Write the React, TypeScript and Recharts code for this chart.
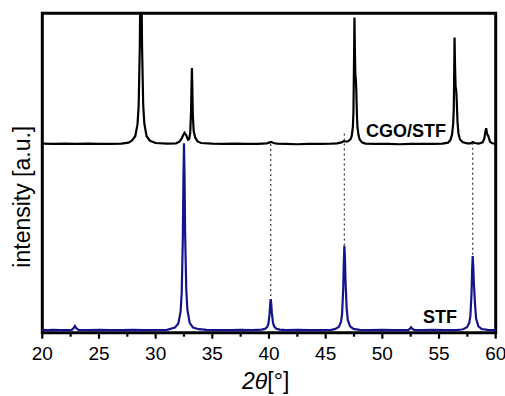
import React from 'react';
import { LineChart, Line, XAxis, YAxis, ReferenceArea, ReferenceLine, Customized } from 'recharts';

// 2theta [deg], intensity [a.u.] (CGO/STF trace is stacked above STF)
const stfProfile: [number, number][] = [
  [20.0, 0.9], [20.5, 0.8], [21.0, 0.9], [21.5, 0.8], [22.0, 0.8], [22.6, 0.9], [22.75, 1.4], [22.88, 2.1], [23.0, 1.4],
  [23.2, 0.9], [24.0, 0.8], [25.0, 0.9], [26.0, 0.8], [27.0, 0.8], [28.0, 0.9], [29.0, 0.8], [30.0, 0.8], [31.0, 0.9],
  [31.7, 1.6], [32.0, 2.9], [32.2, 6.6], [32.3, 12.5], [32.4, 30], [32.45, 47.5], [32.5, 59.3], [32.55, 48.5],
  [32.6, 31], [32.7, 13.7], [32.8, 7.2], [33.0, 3.1], [33.3, 1.6], [33.8, 1.1], [34.5, 0.9], [35.5, 0.8], [36.5, 0.8],
  [37.5, 0.9], [38.5, 0.8], [39.0, 0.9],
  [39.35, 0.95], [39.65, 1.2], [39.85, 1.8], [39.95, 2.8], [40.05, 5.8], [40.1, 8.7], [40.15, 10.5], [40.2, 9],
  [40.25, 6.2], [40.35, 3.2], [40.45, 2.0], [40.65, 1.25], [40.95, 0.95], [41.5, 0.8], [42.5, 0.9], [43.5, 0.8],
  [44.5, 0.8], [45.5, 0.9],
  [45.85, 1.2], [46.15, 1.8], [46.35, 3.4], [46.45, 6], [46.55, 14], [46.6, 22], [46.65, 27.2], [46.7, 23.2],
  [46.75, 16.2], [46.85, 7.7], [46.95, 4], [47.15, 2.0], [47.45, 1.2], [48.0, 0.9], [49.0, 0.8], [50.0, 0.9],
  [51.0, 0.8], [52.0, 0.8],
  [52.3, 0.9], [52.45, 1.3], [52.53, 1.7], [52.62, 1.3], [52.8, 0.9], [53.5, 0.8], [54.5, 0.9], [55.5, 0.8],
  [56.5, 0.8], [57.0, 1.0],
  [57.17, 1.15], [57.47, 1.7], [57.67, 3.1], [57.77, 5.4], [57.87, 12.4], [57.92, 19.5], [57.97, 24.0], [58.02, 20.7],
  [58.07, 15.7], [58.12, 12.7], [58.17, 9.2], [58.27, 4.4], [58.47, 2.0], [58.77, 1.15], [59.3, 0.9], [60.0, 0.8],
];

const cgoStfProfile: [number, number][] = [
  [20.0, 59.2], [21.0, 59.1], [22.0, 59.2], [23.0, 59.1], [24.0, 59.2], [25.0, 59.1], [26.0, 59.1], [27.0, 59.2],
  [27.6, 59.5], [27.9, 60.1], [28.2, 61.5], [28.4, 65.2], [28.5, 71], [28.6, 89], [28.65, 109], [28.7, 125],
  [28.75, 109], [28.8, 90], [28.9, 71.5], [29.0, 65.5], [29.2, 61.5], [29.5, 60.1], [30.0, 59.4], [31.0, 59.2],
  [31.8, 59.3], [32.1, 59.8], [32.3, 60.8], [32.45, 62.0], [32.55, 62.6], [32.7, 61.8], [32.85, 60.4], [32.95, 60.6],
  [33.05, 62.5], [33.12, 69], [33.16, 76.5], [33.2, 82.9], [33.24, 76], [33.28, 68], [33.36, 63], [33.5, 61],
  [33.7, 59.9], [34.0, 59.4], [35.0, 59.2], [36.0, 59.1], [37.0, 59.2], [38.0, 59.1], [39.0, 59.1],
  [39.8, 59.3], [40.0, 59.5], [40.2, 59.7], [40.4, 59.4], [40.7, 59.2], [41.5, 59.1], [42.5, 59.0], [43.5, 59.1],
  [44.5, 59.1], [45.5, 59.2], [46.0, 59.3], [46.4, 59.6], [46.6, 60.0], [46.8, 59.8], [47.0, 60.0], [47.2, 60.6],
  [47.3, 61.6], [47.4, 64.5], [47.45, 69], [47.5, 85], [47.54, 98.7], [47.58, 88], [47.62, 80.5], [47.66, 79.5],
  [47.7, 76], [47.75, 69], [47.8, 64.5], [47.9, 61.8], [48.0, 60.5], [48.2, 59.6], [48.5, 59.2], [49.5, 59.1],
  [50.5, 59.1], [51.5, 59.0], [52.5, 59.1], [53.5, 59.1], [54.5, 59.1], [55.3, 59.2], [55.8, 59.5], [56.0, 60.3],
  [56.15, 62], [56.25, 65.5], [56.3, 70], [56.34, 82], [56.37, 92.4], [56.41, 84], [56.46, 77], [56.52, 75.8],
  [56.57, 72], [56.63, 66], [56.72, 62.3], [56.85, 60.5], [57.1, 59.6], [57.5, 59.3], [57.8, 59.3], [57.97, 59.7],
  [58.15, 59.4], [58.5, 59.2], [58.85, 59.6], [59.0, 60.8], [59.08, 62.8], [59.16, 64.0], [59.24, 62.2],
  [59.32, 61.8], [59.4, 61.0], [59.5, 59.8], [59.7, 59.3], [60.0, 59.2],
];

// dotted guides: [2theta, top, bottom]
const guideLines: [number, number, number][] = [
  [40.15, 59.1, 10.5],
  [46.65, 62.4, 27.2],
  [57.97, 59.5, 24.0],
];

const majorTicks = [20, 25, 30, 35, 40, 45, 50, 55, 60];
const minorTicks = [22.5, 27.5, 32.5, 37.5, 42.5, 47.5, 52.5, 57.5];

const stfData = stfProfile.map(([theta, counts]) => ({ theta, counts }));
const cgoStfData = cgoStfProfile.map(([theta, counts]) => ({ theta, counts }));

const FONT = '"Liberation Sans", Arial, sans-serif';

const AxisTick = (props: any) => {
  const { x, y, payload } = props;
  const major = majorTicks.includes(payload.value);
  return (
    <g>
      <line x1={x} x2={x} y1={y} y2={y + (major ? 6 : 4)} stroke="#000" strokeWidth={2.2} />
      {major && (
        <text x={x} y={y + 14} dy="0.71em" textAnchor="middle" fontSize={19} fontFamily={FONT} fill="#000">
          {payload.value}
        </text>
      )}
    </g>
  );
};

const Texts = () => (
  <g fontFamily={FONT} fill="#000">
    <text x={406} y={136.7} textAnchor="middle" fontSize={18} fontWeight="bold">CGO/STF</text>
    <text x={440} y={323} textAnchor="middle" fontSize={18} fontWeight="bold">STF</text>
    <text x={30.5} y={196.7} transform="rotate(-90 30.5 196.7)" textAnchor="middle" fontSize={23}>
      intensity [a.u.]
    </text>
    <text x={265.7} y={389} textAnchor="middle" fontSize={23}>
      <tspan fontStyle="italic">2θ</tspan>[°]
    </text>
  </g>
);

export default function App() {
  return (
    <div style={{ position: 'absolute', left: 0, top: 0 }}>
      <LineChart width={505} height={396} margin={{ top: 13.3, right: 9.3, left: 42.3, bottom: 33.3 }}>
        <XAxis
          dataKey="theta"
          type="number"
          domain={[20, 60]}
          allowDataOverflow
          ticks={[...majorTicks, ...minorTicks].sort((a, b) => a - b)}
          interval={0}
          height={30}
          axisLine={false}
          tickLine={false}
          tickSize={0}
          tickMargin={0}
          tick={<AxisTick />}
        />
        <YAxis type="number" domain={[0, 100]} allowDataOverflow hide />
        {guideLines.map(([t, top, bottom]) => (
          <ReferenceLine
            key={t}
            segment={[{ x: t, y: top }, { x: t, y: bottom }]}
            stroke="#444"
            strokeWidth={1.3}
            strokeDasharray="2 3"
          />
        ))}
        <Line data={cgoStfData} dataKey="counts" type="linear" stroke="#000" strokeWidth={2.2} dot={false} isAnimationActive={false} />
        <Line data={stfData} dataKey="counts" type="linear" stroke="#14148c" strokeWidth={2.2} dot={false} isAnimationActive={false} />
        <ReferenceArea x1={20} x2={60} y1={0} y2={100} fill="none" fillOpacity={0} stroke="#000" strokeWidth={3} />
        <Customized component={Texts} />
      </LineChart>
    </div>
  );
}
